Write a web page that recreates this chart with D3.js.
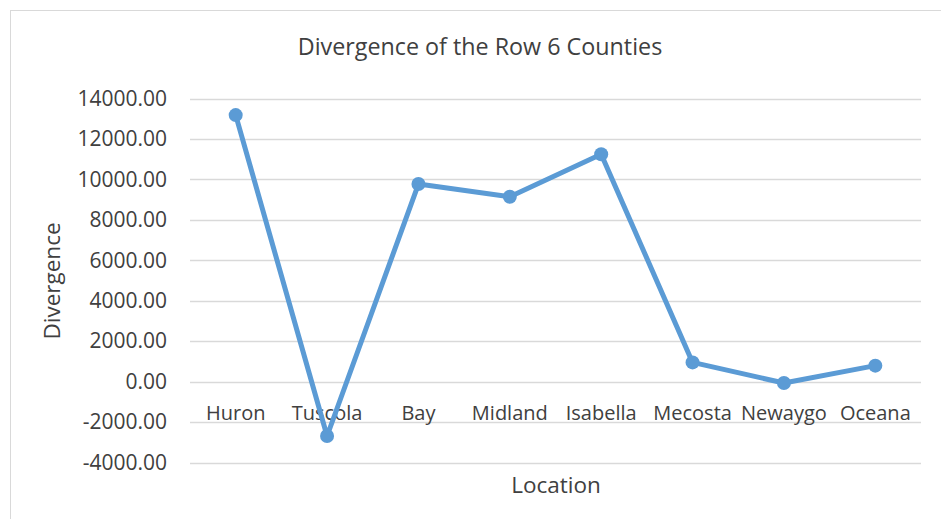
<!DOCTYPE html>
<html>
<head>
<meta charset="utf-8">
<script src="https://cdn.jsdelivr.net/npm/d3@7"></script>
<style>
  html, body { margin: 0; padding: 0; background: #fff; }
  svg { display: block; font-family: "Open Sans", sans-serif; }
</style>
</head>
<body>
<svg id="chart" width="941" height="519"></svg>
<script>
// County divergence values
const categories = ["Huron", "Tuscola", "Bay", "Midland", "Isabella", "Mecosta", "Newaygo", "Oceana"];
const divergence = [13180, -2690, 9770, 9140, 11240, 950, -70, 790];
const yTicks = [-4000, -2000, 0, 2000, 4000, 6000, 8000, 10000, 12000, 14000];

const svg = d3.select("#chart");
const W = 941, H = 519;
const plot = { left: 190, right: 921, top: 98.5, bottom: 462.5 };
const textColor = "#404040";

// chart frame
svg.append("rect")
  .attr("x", 10.5).attr("y", 10.5)
  .attr("width", W).attr("height", H)
  .attr("fill", "#fff").attr("stroke", "#d9d9d9").attr("stroke-width", 1);

const x = d3.scaleBand().domain(categories).range([plot.left, plot.right]);
const y = d3.scaleLinear().domain([-4000, 14000]).range([plot.bottom, plot.top]);

// horizontal gridlines
svg.append("g")
  .selectAll("line")
  .data(yTicks)
  .join("line")
  .attr("x1", plot.left).attr("x2", plot.right)
  .attr("y1", d => Math.round(y(d)) + 0.5).attr("y2", d => Math.round(y(d)) + 0.5)
  .attr("stroke", "#d9d9d9").attr("stroke-width", 1.3);

// y axis labels (plain hyphen for negatives)
const fmt = d => d.toFixed(2);
const yAxis = svg.append("g")
  .attr("transform", `translate(${plot.left},0)`)
  .call(d3.axisLeft(y).tickValues(yTicks).tickFormat(fmt).tickSize(0).tickPadding(23));
yAxis.select(".domain").remove();
yAxis.selectAll("text")
  .attr("fill", textColor)
  .style("font-size", "21px")
  .style("font-family", "'Open Sans', sans-serif");

// category labels sit just below the zero line
const xAxis = svg.append("g")
  .attr("transform", `translate(0,${y(0)})`)
  .call(d3.axisBottom(x).tickSize(0).tickPadding(24));
xAxis.select(".domain").remove();
xAxis.selectAll("text")
  .attr("fill", textColor)
  .style("font-size", "20px")
  .style("font-family", "'Open Sans', sans-serif");

// data line
const line = d3.line()
  .x((d, i) => x(categories[i]) + x.bandwidth() / 2)
  .y(d => y(d));

svg.append("path")
  .datum(divergence)
  .attr("d", line)
  .attr("fill", "none")
  .attr("stroke", "#5b9bd5")
  .attr("stroke-width", 5)
  .attr("stroke-linejoin", "round");

svg.append("g")
  .selectAll("circle")
  .data(divergence)
  .join("circle")
  .attr("cx", (d, i) => x(categories[i]) + x.bandwidth() / 2)
  .attr("cy", d => y(d))
  .attr("r", 7)
  .attr("fill", "#5b9bd5");

// titles
svg.append("text")
  .attr("x", 480).attr("y", 55)
  .attr("text-anchor", "middle")
  .attr("fill", textColor)
  .style("font-size", "23.3px")
  .text("Divergence of the Row 6 Counties");

svg.append("text")
  .attr("x", 556).attr("y", 493)
  .attr("text-anchor", "middle")
  .attr("fill", textColor)
  .style("font-size", "22.5px")
  .text("Location");

svg.append("text")
  .attr("transform", "translate(60,281) rotate(-90)")
  .attr("text-anchor", "middle")
  .attr("fill", textColor)
  .style("font-size", "22.5px")
  .text("Divergence");
</script>
</body>
</html>
